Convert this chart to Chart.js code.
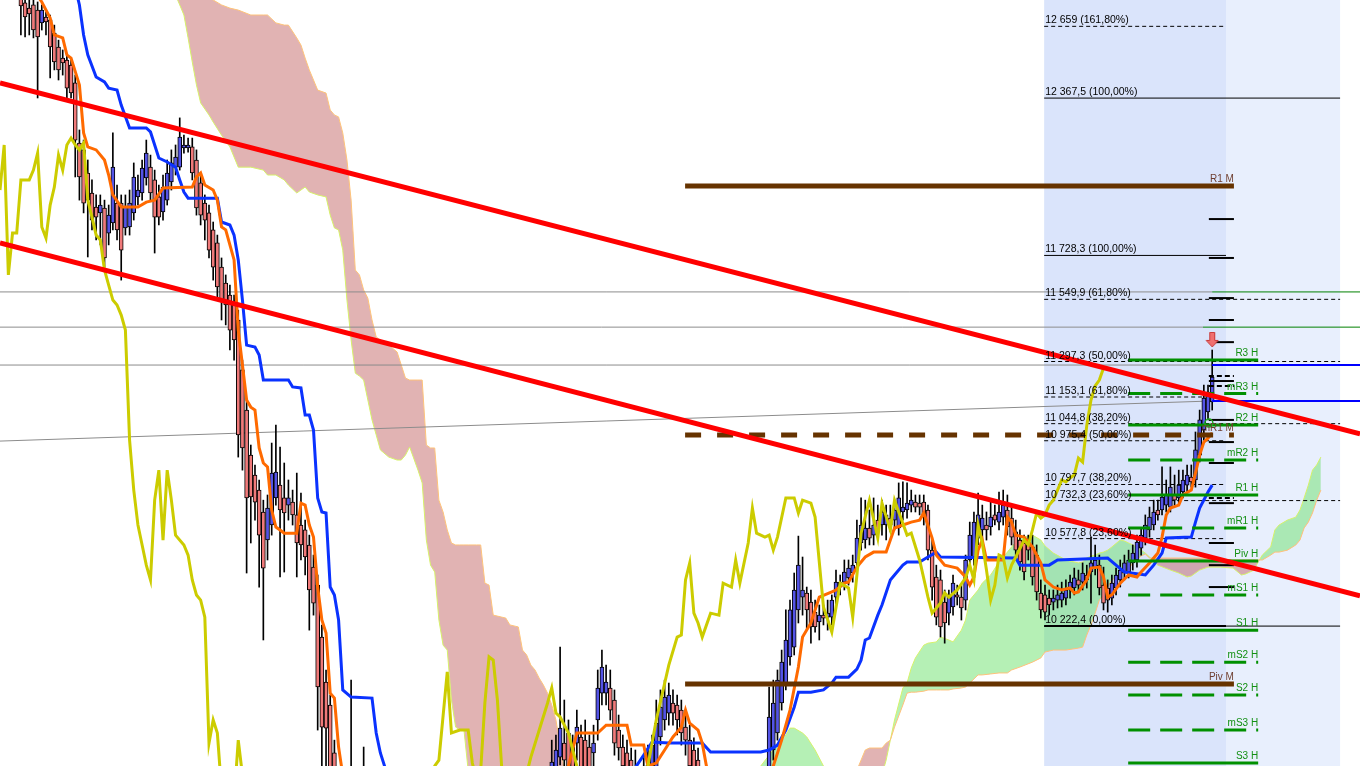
<!DOCTYPE html>
<html>
<head>
<meta charset="utf-8">
<script src="https://cdn.jsdelivr.net/npm/chart.js@4.4.1/dist/chart.umd.min.js"></script>
<style>
html, body { margin: 0; padding: 0; background: #fff; overflow: hidden; }
#wrap { width: 1360px; height: 766px; position: relative; }
</style>
</head>
<body>
<div id="wrap"><canvas id="chart"></canvas></div>
<script>
const ctx = document.getElementById('chart').getContext('2d');

// candles: index 5 .. 290, null = bar outside the visible price range
const firstCandle = 5;
const opens = [
  12786, 12754, 12733, 12746, 12725, 12673, 12697, 12685, 12632, 12575,
  12530, 12522, 12502, 12429, 12185, 12157, 12063, 11982, 11925, 11901,
  11921, 11819, 11860, 11941, 11941, 11840, 11844, 11901, 11966, 11982,
  12043, 12087, 12035, 11966, 11905, 11953, 12027, 12087, 12087, 12165,
  12165, 12169, 12116, 12023, 11941, 11901, 11832, 11779, 11681, 11616,
  11567, 11527, 11466, 11263, 11100, 10917, 10836, 10775, 10686, 10572,
  10633, 10743, 10795, 10743, 10714, 10726, 10674, 10633, 10613, 10552,
  10462, 10389, 10178, 9995, 9902, 9707, null, null, null, 9556,
  null, null, 9516,
  null, null, null, null, null, null, null, null, null, null, null,
  null, null, null, null, null, null, null, null, null, null, null,
  null, null, null, null, null, null, null, null, null, null, null,
  null, null, null, null, null, null, null, null, null, null, null,
  9597, 9646, 9690, 9747, 9788, 9731, 9747, 9772, 9759, 9731,
  9707, 9841, 9950, 9950, 9971, 9922, 9800, 9731, 9707, 9678,
  9637, null, 9556, 9658, 9654, 9637, 9772, 9841, 9869, 9910,
  9902, 9881, 9812, 9759, 9719, 9678,
  null, null, null, null, null, null, null, null, null, null, null, null, null, null, null, null,
  9597, 9719, 9788, 9910, 9991, 10097, 10137, 10288, 10340, 10357,
  10320, 10279, 10239, 10267, 10259, 10259, 10340, 10381, 10401, 10418,
  10438, 10479, 10560, 10572, 10621, 10592, 10653, 10633, 10633, 10661,
  10653, 10621, 10686, 10694, 10714, 10726, 10722, 10726, 10694, 10531,
  10422, 10410, 10320, 10275, 10300, 10349, 10340, 10328, 10491, 10503,
  10580, 10613, 10633, 10625, 10674, 10645, 10665, 10694, 10661, 10605,
  10572, 10560, 10564, 10544, 10511, 10357, 10349, 10336, 10320, 10328,
  10328, 10336, 10369, 10377, 10410, 10401, 10430, 10442, 10458, 10470,
  10389, 10377, 10336, 10377, 10410, 10438, 10442, 10479, 10491, 10539,
  10580, 10613, 10633, 10694, 10694, 10714, 10706, 10755, 10743, 10767,
  10795, 10828, 10816, 10917, 11019, 11092, 11133
];
const highs = [
  12827, 12786, 12766, 12766, 12758, 12746, 12717, 12705, 12664, 12603,
  12563, 12543, 12522, 12461, 12238, 12197, 12116, 12035, 11974, 11974,
  11953, 11933, 12226, 12014, 11974, 11974, 11994, 12104, 12055, 12116,
  12197, 12136, 12075, 12014, 12055, 12116, 12157, 12177, 12287, 12217,
  12205, 12205, 12157, 12055, 11974, 11933, 11864, 11811, 11718, 11649,
  11608, 11567, 11506, 11303, 11141, 10958, 10877, 10816, 10734, 10755,
  10966, 11039, 10950, 10885, 10816, 10775, 10844, 10763, 10653, 10592,
  10511, 10430, 10227, 10044, 9942, 9759, null, null, null, 10003,
  null, null, 9731,
  null, null, null, null, null, null, null, null, null, null, null,
  null, null, null, null, null, null, null, null, null, null, null,
  null, null, null, null, null, null, null, null, null, null, null,
  null, null, null, null, null, null, null, null, null, null, null,
  9759, 9780, 10137, 9922, 9841, 9780, 9881, 9820, 9841, 9780,
  9820, 10044, 10125, 10064, 10044, 9963, 9861, 9780, 9759, 9727,
  9719, null, 9698, 9739, 9780, 9922, 9963, 10003, 9991, 9963,
  9942, 9922, 9861, 9820, 9768, 9727,
  null, null, null, null, null, null, null, null, null, null, null, null, null, null, null, null,
  9975, 10003, 10044, 10125, 10288, 10328, 10438, 10588, 10503, 10381,
  10369, 10328, 10308, 10308, 10328, 10349, 10450, 10430, 10491, 10491,
  10511, 10653, 10743, 10734, 10694, 10743, 10714, 10734, 10714, 10714,
  10734, 10804, 10808, 10804, 10775, 10755, 10755, 10755, 10714, 10572,
  10470, 10450, 10369, 10369, 10430, 10389, 10389, 10511, 10645, 10686,
  10763, 10714, 10686, 10734, 10714, 10767, 10775, 10755, 10714, 10653,
  10613, 10592, 10592, 10592, 10552, 10410, 10389, 10369, 10369, 10389,
  10401, 10410, 10430, 10458, 10450, 10479, 10470, 10584, 10552, 10511,
  10462, 10410, 10430, 10458, 10491, 10511, 10531, 10552, 10592, 10621,
  10674, 10706, 10734, 10734, 10869, 10816, 10869, 10836, 10856, 10856,
  10877, 10877, 11011, 11100, 11202, 11202, 11344
];
const lows = [
  12624, 12616, 12624, 12612, 12368, 12644, 12624, 12449, 12482, 12441,
  12461, 12360, 12368, 12047, 11953, 11901, 11722, 11832, 11791, 11771,
  11681, 11771, 11832, 11791, 11628, 11811, 11811, 11872, 11933, 11953,
  12014, 11953, 11738, 11852, 11872, 11933, 11994, 12055, 12075, 12144,
  12148, 12035, 11892, 11852, 11791, 11718, 11628, 11547, 11466, 11446,
  11344, 11303, 10909, 10856, 10438, 10560, 10653, 10381, 10166, 10491,
  10592, 10714, 10422, 10442, 10653, 10633, 10422, 10491, 10430, 10206,
  10267, 9800, 9637, 9597, 9516, 9434, null, null, null, 9394,
  null, null, 9394,
  null, null, null, null, null, null, null, null, null, null, null,
  null, null, null, null, null, null, null, null, null, null, null,
  null, null, null, null, null, null, null, null, null, null, null,
  null, null, null, null, null, null, null, null, null, null, null,
  9556, 9617, 9658, 9637, 9597, 9577, 9678, 9597, 9577, 9556,
  9637, 9759, 9902, 9902, 9841, 9698, 9678, 9597, 9556, 9536,
  9516, null, 9516, 9556, 9597, 9617, 9739, 9800, 9820, 9820,
  9780, 9739, 9698, 9617, 9556, 9516,
  null, null, null, null, null, null, null, null, null, null, null, null, null, null, null, null,
  9556, 9678, 9759, 9881, 9963, 10064, 10105, 10235, 10267, 10206,
  10153, 10198, 10166, 10227, 10206, 10227, 10308, 10349, 10369, 10389,
  10401, 10450, 10531, 10539, 10552, 10552, 10572, 10592, 10572, 10605,
  10613, 10592, 10653, 10661, 10686, 10686, 10674, 10633, 10491, 10328,
  10227, 10178, 10153, 10227, 10267, 10308, 10247, 10288, 10462, 10470,
  10552, 10572, 10572, 10592, 10633, 10613, 10633, 10592, 10552, 10491,
  10450, 10410, 10491, 10389, 10328, 10255, 10247, 10267, 10288, 10296,
  10300, 10308, 10336, 10349, 10361, 10369, 10377, 10316, 10430, 10349,
  10288, 10279, 10308, 10349, 10381, 10410, 10418, 10450, 10462, 10511,
  10552, 10584, 10613, 10653, 10674, 10686, 10686, 10714, 10714, 10743,
  10767, 10787, 10787, 10889, 10978, 11060, 11100
];
const closes = [
  12742, 12697, 12709, 12644, 12616, 12725, 12677, 12575, 12514, 12482,
  12510, 12408, 12388, 12197, 12047, 11941, 11953, 11872, 11884, 11933,
  11718, 11892, 12087, 11832, 11750, 11925, 11941, 12047, 11994, 12083,
  12144, 11982, 11884, 11884, 12006, 12063, 12104, 12128, 12209, 12177,
  12177, 12063, 11921, 11892, 11872, 11750, 11681, 11600, 11547, 11527,
  11425, 11385, 10999, 10946, 10743, 10747, 10726, 10592, 10458, 10702,
  10844, 10848, 10694, 10682, 10743, 10674, 10560, 10552, 10503, 10369,
  10316, 9975, 9812, 9808, 9597, 9516, null, null, null, 9475,
  null, null, 9455,
  null, null, null, null, null, null, null, null, null, null, null,
  null, null, null, null, null, null, null, null, null, null, null,
  null, null, null, null, null, null, null, null, null, null, null,
  null, null, null, null, null, null, null, null, null, null, null,
  9670, 9719, 9808, 9678, 9654, 9637, 9812, 9637, 9617, 9597,
  9747, 9971, 10056, 9995, 9881, 9747, 9727, 9654, 9617, 9577,
  9556, null, 9637, 9617, 9739, 9828, 9893, 9934, 9942, 9869,
  9841, 9788, 9759, 9654, 9617, 9556,
  null, null, null, null, null, null, null, null, null, null, null, null, null, null, null, null,
  9853, 9910, 10003, 10076, 10166, 10288, 10369, 10470, 10369, 10288,
  10219, 10219, 10267, 10255, 10275, 10328, 10401, 10401, 10442, 10458,
  10470, 10580, 10633, 10621, 10580, 10633, 10613, 10686, 10674, 10633,
  10694, 10743, 10706, 10722, 10734, 10706, 10706, 10665, 10531, 10381,
  10259, 10219, 10235, 10340, 10397, 10340, 10296, 10491, 10592, 10645,
  10674, 10661, 10613, 10665, 10653, 10686, 10714, 10625, 10584, 10531,
  10483, 10442, 10531, 10422, 10361, 10288, 10279, 10308, 10336, 10349,
  10357, 10369, 10401, 10418, 10389, 10438, 10410, 10479, 10491, 10377,
  10316, 10328, 10397, 10430, 10450, 10479, 10491, 10519, 10564, 10592,
  10633, 10665, 10686, 10674, 10747, 10755, 10787, 10734, 10795, 10816,
  10836, 10808, 10938, 11060, 11149, 11173, 11234
];

// ichimoku lines (bar index, price)
const tenkanIdx = [8, 10, 12, 13, 15, 16, 17, 19, 20, 21, 23, 25, 26, 27, 29, 33, 35, 37, 39, 46, 47, 48, 49, 51, 52, 53, 54, 56, 57, 58, 59, 60, 61, 62, 63, 64, 65, 66, 67, 68, 71, 72, 73, 74, 75, 76, 77, 78, 79, 80, 81, 82, 100, 130, 136, 138, 143, 145, 150, 151, 154, 155, 157, 159, 161, 163, 164, 165, 167, 168, 169, 172, 182, 185, 187, 189, 191, 192, 194, 196, 199, 200, 202, 203, 205, 207, 209, 212, 214, 216, 218, 220, 221, 223, 224, 226, 229, 231, 232, 233, 234, 235, 236, 240, 241, 242, 243, 245, 247, 249, 250, 252, 254, 256, 257, 258, 260, 261, 263, 264, 265, 266, 268, 270, 272, 273, 275, 277, 278, 279, 280, 282, 283, 285, 286, 287, 288, 289, 290];
const tenkanVal = [12807, 12758, 12693, 12624, 12612, 12543, 12530, 12421, 12226, 12169, 12157, 12116, 12055, 11974, 11925, 11925, 11945, 11953, 12002, 12006, 12047, 12063, 12014, 11994, 11953, 11844, 11832, 11710, 11425, 11283, 11141, 11112, 11100, 10946, 10885, 10869, 10694, 10625, 10613, 10600, 10600, 10722, 10714, 10633, 10584, 10381, 10247, 10194, 9950, 9930, 9731, 9617, 9313, 9516, 9654, 9788, 9788, 9820, 9820, 9739, 9739, 9654, 9666, 9719, 9772, 9812, 9881, 9828, 9800, 9747, 9654, 9516, 9556, 9654, 9759, 9881, 10056, 10178, 10235, 10340, 10361, 10369, 10397, 10401, 10462, 10503, 10523, 10523, 10621, 10633, 10645, 10653, 10682, 10580, 10511, 10470, 10458, 10422, 10389, 10422, 10531, 10572, 10491, 10491, 10665, 10645, 10592, 10584, 10544, 10479, 10410, 10381, 10369, 10377, 10357, 10361, 10410, 10458, 10462, 10422, 10340, 10349, 10397, 10430, 10422, 10442, 10479, 10519, 10584, 10674, 10702, 10714, 10755, 10775, 10844, 10917, 10970, 10986, 11007];

const kijunIdx = [17, 19, 20, 21, 23, 25, 26, 28, 29, 31, 35, 36, 38, 40, 42, 43, 44, 45, 52, 53, 55, 56, 57, 58, 59, 61, 62, 63, 69, 70, 72, 73, 74, 75, 76, 77, 78, 79, 80, 81, 82, 84, 89, 90, 91, 92, 93, 110, 150, 154, 156, 160, 168, 170, 182, 184, 186, 188, 190, 191, 194, 197, 199, 200, 203, 205, 206, 207, 208, 210, 211, 213, 214, 216, 217, 220, 222, 224, 225, 243, 244, 251, 253, 265, 267, 269, 274, 276, 278, 279, 285, 286, 287, 289, 290];
const kijunVal = [12888, 12746, 12624, 12543, 12453, 12433, 12408, 12400, 12339, 12246, 12246, 12230, 12124, 12108, 12087, 12035, 11986, 11961, 11961, 11864, 11852, 11811, 11710, 11547, 11364, 11356, 11324, 11222, 11222, 11194, 11190, 11080, 11080, 11019, 10743, 10686, 10682, 10381, 10349, 10247, 9963, 9934, 9930, 9788, 9707, 9654, 9556, 9394, 9597, 9698, 9751, 9747, 9747, 9711, 9711, 9719, 9739, 9800, 9893, 9954, 9954, 9963, 9991, 10015, 10015, 10048, 10084, 10166, 10174, 10267, 10308, 10410, 10430, 10470, 10483, 10483, 10503, 10523, 10503, 10499, 10470, 10470, 10491, 10499, 10470, 10442, 10430, 10470, 10519, 10580, 10584, 10645, 10702, 10767, 10795];

const chikouIdx = [0, 1, 2, 3, 4, 5, 7, 8, 9, 10, 11, 12, 13, 14, 15, 16, 17, 18, 19, 20, 21, 22, 23, 24, 25, 26, 27, 28, 29, 30, 31, 32, 33, 34, 35, 36, 37, 38, 39, 40, 41, 42, 44, 45, 46, 47, 48, 49, 50, 51, 52, 53, 56, 57, 58, 60, 100, 104, 105, 107, 108, 110, 112, 113, 114, 115, 116, 117, 118, 119, 120, 121, 125, 127, 129, 131, 132, 133, 134, 136, 138, 139, 153, 155, 157, 160, 162, 163, 164, 165, 166, 167, 168, 170, 172, 173, 175, 176, 177, 179, 180, 181, 183, 184, 185, 186, 188, 190, 191, 192, 194, 195, 197, 199, 201, 203, 204, 206, 208, 210, 211, 213, 214, 217, 218, 220, 222, 223, 225, 226, 227, 229, 231, 232, 233, 234, 235, 236, 237, 238, 239, 240, 241, 242, 243, 245, 246, 247, 248, 249, 250, 251, 252, 253, 254, 255, 256, 257, 258, 259, 260, 261, 262, 263, 264];
const chikouVal = [11994, 12177, 11649, 11819, 11819, 12035, 12035, 12075, 12144, 11844, 11799, 11933, 12006, 12136, 12075, 12177, 12205, 12177, 12157, 12185, 11953, 11884, 11811, 11791, 11669, 11608, 11547, 11527, 11486, 11425, 10978, 10775, 10633, 10552, 10470, 10410, 10734, 10856, 10572, 10856, 10734, 10592, 10552, 10511, 10410, 10349, 10328, 10259, 9747, 9841, 9788, 9556, 9516, 9759, 9617, 9434, 9434, 9654, 9678, 10036, 9788, 9800, 9800, 9666, 9597, 9637, 9910, 10097, 10084, 9922, 9654, 9556, 9556, 9690, 9800, 9910, 9971, 9869, 9853, 9788, 9654, 9556, 9556, 9654, 9841, 10064, 10178, 10186, 10410, 10479, 10275, 10235, 10178, 10275, 10267, 10397, 10381, 10491, 10397, 10560, 10702, 10600, 10584, 10592, 10531, 10584, 10743, 10743, 10682, 10734, 10722, 10665, 10300, 10198, 10397, 10377, 10259, 10600, 10734, 10580, 10722, 10613, 10734, 10592, 10600, 10491, 10340, 10275, 10316, 10357, 10340, 10369, 10418, 10470, 10410, 10633, 10560, 10450, 10328, 10389, 10511, 10503, 10418, 10470, 10503, 10572, 10552, 10613, 10682, 10661, 10674, 10714, 10734, 10775, 10816, 10808, 10824, 10836, 10905, 10889, 11039, 11141, 11198, 11222, 11271];

const cloudIdx = [38, 42, 43, 44, 45, 46, 47, 48, 50, 51, 53, 55, 57, 60, 63, 64, 66, 68, 69, 71, 72, 73, 74, 76, 78, 79, 80, 81, 82, 83, 84, 85, 86, 87, 88, 89, 90, 91, 93, 95, 96, 97, 98, 100, 101, 102, 103, 104, 105, 106, 107, 108, 109, 110, 111, 112, 114, 115, 116, 117, 118, 120, 121, 122, 124, 125, 126, 127, 128, 129, 130, 131, 132, 133, 134, 135, 136, 150, 178, 181, 182, 184, 186, 188, 189, 190, 192, 193, 195, 197, 199, 201, 205, 207, 208, 211, 212, 213, 214, 216, 217, 218, 219, 221, 222, 224, 225, 227, 228, 230, 231, 232, 234, 235, 237, 239, 241, 242, 244, 247, 249, 250, 252, 255, 258, 259, 260, 261, 262, 263, 264, 265, 266, 268, 269, 270, 271, 273, 274, 275, 277, 280, 282, 284, 285, 287, 289, 292, 295, 297, 298, 300, 301, 302, 304, 305, 306, 308, 310, 311, 312, 313, 314, 315, 316];
const spanA = [13010, 12786, 12746, 12705, 12612, 12514, 12421, 12348, 12299, 12270, 12217, 12169, 12087, 12087, 12075, 12055, 12055, 12035, 12014, 11982, 11994, 12006, 11986, 11974, 11966, 11892, 11840, 11832, 11750, 11547, 11385, 11250, 11238, 11222, 11141, 11060, 10999, 10938, 10909, 10897, 10897, 10917, 10950, 10856, 10804, 10572, 10470, 10442, 10247, 10145, 10125, 9922, 9812, 9800, 9800, 9637, 9516, 9475, 9455, 9455, 9455, 9455, 9455, 9455, 9455, 9455, 9455, 9455, 9455, 9455, 9455, 9455, 9455, 9455, 9455, 9455, 9455, 9434, 9516, 9617, 9654, 9698, 9739, 9780, 9808, 9808, 9788, 9772, 9719, 9654, 9556, 9516, 9516, 9536, 9556, 9617, 9678, 9759, 9841, 9971, 9991, 10052, 10093, 10145, 10153, 10158, 10178, 10166, 10158, 10206, 10247, 10328, 10369, 10397, 10430, 10483, 10523, 10544, 10580, 10592, 10572, 10548, 10519, 10491, 10479, 10483, 10499, 10507, 10511, 10519, 10523, 10531, 10544, 10572, 10568, 10560, 10552, 10531, 10519, 10503, 10470, 10450, 10438, 10422, 10426, 10450, 10462, 10462, 10458, 10430, 10434, 10450, 10483, 10511, 10544, 10613, 10633, 10653, 10665, 10694, 10743, 10795, 10856, 10877, 10909];
const spanB = [13254, 13010, 12949, 12908, 12868, 12827, 12807, 12786, 12774, 12766, 12746, 12733, 12725, 12705, 12705, 12705, 12673, 12664, 12664, 12612, 12583, 12530, 12482, 12400, 12388, 12319, 12299, 12291, 12226, 12116, 11953, 11669, 11649, 11588, 11555, 11466, 11397, 11385, 11364, 11336, 11283, 11230, 11222, 11222, 11222, 10958, 10946, 10946, 10734, 10686, 10613, 10560, 10552, 10552, 10552, 10552, 10552, 10552, 10397, 10389, 10267, 10259, 10255, 10227, 10219, 10125, 10105, 10064, 10044, 10011, 9983, 9950, 9902, 9841, 9739, 9637, 9556, 9434, 9394, 9394, 9394, 9394, 9394, 9394, 9394, 9394, 9414, 9434, 9475, 9516, 9556, 9597, 9637, 9719, 9727, 9727, 9747, 9759, 9812, 9902, 9950, 9954, 9954, 9958, 9963, 9963, 9963, 9963, 9967, 9971, 9975, 9991, 10024, 10024, 10028, 10032, 10032, 10044, 10056, 10076, 10093, 10117, 10125, 10125, 10133, 10137, 10186, 10227, 10275, 10328, 10349, 10381, 10410, 10430, 10442, 10454, 10479, 10507, 10515, 10499, 10499, 10499, 10499, 10499, 10499, 10499, 10495, 10495, 10491, 10491, 10491, 10491, 10491, 10491, 10511, 10523, 10523, 10531, 10552, 10572, 10621, 10645, 10682, 10734, 10775];

// fibonacci levels
const fibLevels = [12659, 12367.5, 11728.3, 11549.9, 11297.3, 11153.1, 11044.8, 10975.4, 10797.7, 10732.3, 10577.8, 10222.4];
const fibText = ['12 659 (161,80%)', '12 367,5 (100,00%)', '11 728,3 (100,00%)', '11 549,9 (61,80%)', '11 297,3 (50,00%)', '11 153,1 (61,80%)', '11 044,8 (38,20%)', '10 975,4 (50,00%)', '10 797,7 (38,20%)', '10 732,3 (23,60%)', '10 577,8 (23,60%)', '10 222,4 (0,00%)'];

// pivot levels
const pivotNames = ['R3 H', 'mR3 H', 'R2 H', 'mR2 H', 'R1 H', 'mR1 H', 'Piv H', 'mS1 H', 'S1 H', 'mS2 H', 'S2 H', 'mS3 H', 'S3 H'];
const pivotPrices = [11303, 11167, 11039, 10897, 10755, 10621, 10487, 10349, 10206, 10076, 9942, 9800, 9666];
const monthlyNames = ['R1 M', 'mR1 M', 'Piv M'];
const monthlyPrices = [12010, 10999, 9987];

// horizontal support / resistance, sloped line, trend channel
const srLevels = [11580, 11437, 11283];
const srSloped = [10974, 11137];
const trendUpper = [12429, 11003];
const trendLower = [11779, 10345];
const markerLevels = [11876, 11718, 11555, 11466, 11376, 11218, 11060, 10970, 10885, 10722, 10560, 10470, 10381];
const markerDashed = [11238, 11198, 10743];
const signalPrice = 11385;

// ---------- layout of the level segments (bar index units) ----------
const xMax = 325.36;
const fibX0 = 249.8, fibShort = 293.3, fibLong = 320.6;
const fibToLong = [false, true, false, true, true, false, true, false, false, true, false, true];
const fibSolid = [false, true, true, false, false, false, false, false, false, false, false, true];
const pivX0 = 269.9, pivX1 = 301;
const pivDash = [false, true, false, true, false, true, false, true, false, true, true, true, false];
const monX0 = 163.9, monX1 = 295.2;
const markX0 = 289.2, markX1 = 295.2;

function pts(xs, ys) { return xs.map((x, k) => ({x: x, y: ys[k]})); }
function seg(p0, p1, x0, x1) { return [{x: x0, y: p0}, {x: x1, y: p1}]; }
function lineDs(data, color, width, order, dash) {
  return {type: 'line', data: data, borderColor: color, borderWidth: width, borderDash: dash || [],
          pointRadius: 0, fill: false, tension: 0, order: order};
}

let wickData = [], bodyData = [], bodyColors = [];
for (let k = 0; k < opens.length; k++) {
  if (opens[k] === null) continue;
  const x = firstCandle + k;
  wickData.push({x: x, y: [lows[k], highs[k]]});
  bodyData.push({x: x, y: [opens[k], closes[k]]});
  bodyColors.push(closes[k] >= opens[k] ? '#5454e6' : '#f07a7a');
}

const arrowImg = document.createElement('canvas');
arrowImg.width = 14; arrowImg.height = 16;
(function () {
  const a = arrowImg.getContext('2d');
  a.fillStyle = '#f07070'; a.strokeStyle = '#c83a3a'; a.lineWidth = 1;
  a.beginPath();
  a.moveTo(4.5, 0.5); a.lineTo(9.5, 0.5); a.lineTo(9.5, 8.5); a.lineTo(13, 8.5);
  a.lineTo(7, 15); a.lineTo(1, 8.5); a.lineTo(4.5, 8.5); a.closePath();
  a.fill(); a.stroke();
})();

let datasets = [];
// cloud (span A must be directly before span B for the '+1' fill)
datasets.push({type: 'line', data: pts(cloudIdx, spanA), borderColor: '#d6f26a', borderWidth: 1, pointRadius: 0, tension: 0,
  fill: {target: '+1', above: 'rgba(108,226,108,0.5)', below: 'rgba(196,104,104,0.5)'}, order: 100});
datasets.push(lineDs(pts(cloudIdx, spanB), '#ffc27a', 1, 99));

srLevels.forEach(p => datasets.push(lineDs(seg(p, p, 0, p === 11437 ? 287.8 : 290), '#8c8c8c', 1, 90)));
datasets.push(lineDs(seg(srSloped[0], srSloped[1], 0, 290), '#8c8c8c', 1, 90));

fibLevels.forEach((p, k) => {
  datasets.push(lineDs(seg(p, p, fibX0, fibToLong[k] ? fibLong : fibShort), '#000', 1, 85, fibSolid[k] ? [] : [4, 3]));
});
datasets.push(lineDs(seg(10222.4, 10222.4, fibX0, fibShort), '#000', 2, 84));

datasets.push({type: 'bar', data: wickData, backgroundColor: '#000', barThickness: 1, grouped: false, order: 80});
datasets.push({type: 'bar', data: bodyData, backgroundColor: bodyColors, borderColor: '#000', borderWidth: 1,
  borderSkipped: false, barThickness: 4, grouped: false, order: 79});

datasets.push(lineDs(pts(kijunIdx, kijunVal), '#0a32ff', 3, 70));
datasets.push(lineDs(pts(tenkanIdx, tenkanVal), '#ff6a00', 3, 69));
datasets.push(lineDs(pts(chikouIdx, chikouVal), '#cccc00', 3, 68));

markerLevels.forEach(p => datasets.push(lineDs(seg(p, p, markX0, markX1), '#000', 2, 60)));
markerDashed.forEach(p => datasets.push(lineDs(seg(p, p, markX0, markX1), '#000', 2, 60, [5, 3])));

monthlyPrices.forEach((p, k) => datasets.push(lineDs(seg(p, p, monX0, monX1), '#663300', 5, 55, k === 1 ? [16, 16] : [])));
pivotPrices.forEach((p, k) => datasets.push(lineDs(seg(p, p, pivX0, pivX1), '#009000', 3, 50, pivDash[k] ? [22, 10] : [])));

datasets.push(lineDs(seg(11580, 11580, 290, xMax), '#008000', 1, 45));
datasets.push(lineDs(seg(11437, 11437, 287.8, xMax), '#008000', 1, 45));
datasets.push(lineDs(seg(11283, 11283, 290, xMax), '#0000ff', 2, 45));
datasets.push(lineDs(seg(srSloped[1], srSloped[1], 290, xMax), '#0000ff', 2, 45));

datasets.push(lineDs(seg(trendUpper[0], trendUpper[1], 0, xMax), '#ff0000', 5, 40));
datasets.push(lineDs(seg(trendLower[0], trendLower[1], 0, xMax), '#ff0000', 5, 40));

datasets.push({type: 'scatter', data: [{x: 289.2, y: 11047}], pointStyle: 'circle', pointRadius: 4,
  borderColor: '#1fa81f', borderWidth: 1.5, backgroundColor: 'rgba(0,0,0,0)', order: 31});
datasets.push({type: 'scatter', data: [{x: 290, y: signalPrice}], pointStyle: arrowImg, pointRadius: 7, order: 30});

const overlay = {
  id: 'overlay',
  beforeDatasetsDraw(chart) {
    const c = chart.ctx, a = chart.chartArea, x = chart.scales.x;
    c.save();
    c.fillStyle = '#dae4fb';
    c.fillRect(x.getPixelForValue(fibX0), a.top, x.getPixelForValue(fibShort) - x.getPixelForValue(fibX0), a.bottom - a.top);
    c.fillStyle = '#e8effd';
    c.fillRect(x.getPixelForValue(fibShort), a.top, x.getPixelForValue(fibLong) - x.getPixelForValue(fibShort), a.bottom - a.top);
    c.restore();
  },
  afterDatasetsDraw(chart) {
    const c = chart.ctx, x = chart.scales.x, y = chart.scales.y;
    c.save();
    c.textBaseline = 'alphabetic';
    c.font = '10.5px "Liberation Sans", Arial, sans-serif';
    c.fillStyle = '#000';
    c.textAlign = 'left';
    fibLevels.forEach((p, k) => c.fillText(fibText[k], x.getPixelForValue(fibX0) + 1, y.getPixelForValue(p) - 3));
    c.font = '10px "Liberation Sans", Arial, sans-serif';
    c.textAlign = 'right';
    c.fillStyle = '#139013';
    pivotPrices.forEach((p, k) => c.fillText(pivotNames[k], x.getPixelForValue(pivX1), y.getPixelForValue(p) - 4));
    c.fillStyle = '#6e3e30';
    monthlyPrices.forEach((p, k) => c.fillText(monthlyNames[k], x.getPixelForValue(monX1), y.getPixelForValue(p) - 4));
    c.restore();
  }
};

const dataChart = new Chart(ctx, {
  type: 'line',
  data: {datasets: datasets},
  options: {
    responsive: true,
    maintainAspectRatio: false,
    devicePixelRatio: 1,
    animation: false,
    events: [],
    layout: {padding: 0, autoPadding: false},
    elements: {point: {radius: 0}, line: {tension: 0}},
    scales: {
      x: {type: 'linear', min: 0, max: xMax, offset: false, display: false},
      y: {type: 'linear', min: 9654, max: 12766, display: false}
    },
    plugins: {
      legend: {display: false},
      tooltip: {enabled: false}
    }
  },
  plugins: [overlay]
});
</script>
</body>
</html>
